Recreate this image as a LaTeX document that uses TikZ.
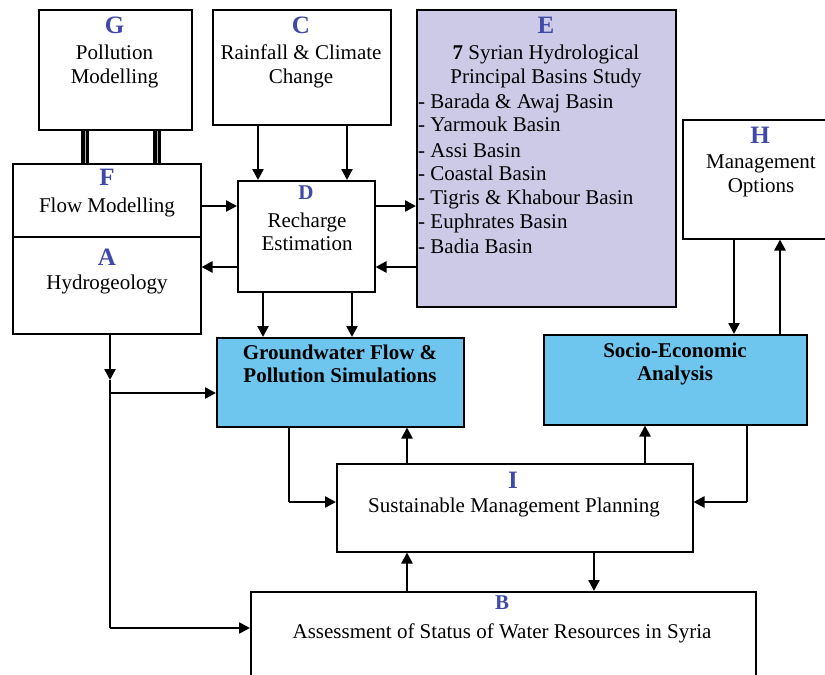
\documentclass[tikz,border=0pt]{standalone}
\usepackage{fontspec}
\setmainfont{Liberation Serif}
\usetikzlibrary{arrows.meta}
\definecolor{lettercol}{RGB}{64,72,168}
\definecolor{lav}{RGB}{204,202,230}
\definecolor{sky}{RGB}{110,198,238}
\begin{document}
\begin{tikzpicture}[x=1pt,y=-1pt,
  box/.style={draw, line width=1.5pt, inner sep=0pt, anchor=north west},
  txt/.style={font=\fontsize{21}{24}\selectfont, inner sep=0pt, anchor=base},
  btxt/.style={font=\fontsize{21}{24}\selectfont\bfseries, inner sep=0pt, anchor=base},
  ltxt/.style={font=\fontsize{21}{24}\selectfont, inner sep=0pt, anchor=base west},
  letter/.style={font=\fontsize{25}{25}\selectfont\bfseries, text=lettercol, inner sep=0pt, anchor=base},
  sletter/.style={font=\fontsize{21}{21}\selectfont\bfseries, text=lettercol, inner sep=0pt, anchor=base},
  arr/.style={-{Triangle[length=11pt,width=11pt]}, line width=2.4pt},
  ln/.style={line width=1.5pt},
  dbl/.style={line width=3.4pt, double=gray!60, double distance=0.9pt}]
\useasboundingbox (0,0) rectangle (825,675);
\clip (0,0) rectangle (825,675);

% boxes
\node[box, minimum width=153pt, minimum height=120pt] (G) at (38,9) {};
\node[box, minimum width=178pt, minimum height=115pt] (C) at (212,9) {};
\node[box, fill=lav, minimum width=259pt, minimum height=297pt] (E) at (416,9) {};
\node[box, minimum width=158pt, minimum height=119pt] (H) at (682,119) {};
\node[box, minimum width=188pt, minimum height=73pt] (F) at (12,163) {};
\node[box, minimum width=188pt, minimum height=97pt] (A) at (12,236) {};
\node[box, minimum width=137pt, minimum height=111pt] (D) at (237,180) {};
\node[box, fill=sky, minimum width=247pt, minimum height=89pt] (GW) at (216,337) {};
\node[box, fill=sky, minimum width=263pt, minimum height=90pt] (SE) at (543,334) {};
\node[box, minimum width=356pt, minimum height=88pt] (I) at (336,463) {};
\node[box, minimum width=505pt, minimum height=110pt] (B) at (250,591) {};

% texts
\node[letter] (Gl) at (114.5,33) {G};
\node[txt] (Gt1) at (114.5,59) {Pollution};
\node[txt] (Gt2) at (114.5,83) {Modelling};
\node[letter] (Cl) at (301,33) {C};
\node[txt] (Ct1) at (301,59) {Rainfall \& Climate};
\node[txt] (Ct2) at (301,83) {Change};
\node[letter] (El) at (546,33) {E};
\node[txt] (Et1) at (546,59) {\textbf{7} Syrian Hydrological};
\node[txt] (Et2) at (546,83) {Principal Basins Study};
\node[ltxt] (E1) at (418,108) {- Barada \& Awaj Basin};
\node[ltxt] (E2) at (418,131) {- Yarmouk Basin};
\node[ltxt] (E3) at (418,157) {- Assi Basin};
\node[ltxt] (E4) at (418,180) {- Coastal Basin};
\node[ltxt] (E5) at (418,204) {- Tigris \& Khabour Basin};
\node[ltxt] (E6) at (418,228) {- Euphrates Basin};
\node[ltxt] (E7) at (418,253) {- Badia Basin};
\node[letter] (Hl) at (760,143) {H};
\node[txt] (Ht1) at (761,168) {Management};
\node[txt] (Ht2) at (761,192) {Options};
\node[letter] (Fl) at (107,185) {F};
\node[txt] (Ft) at (107,212) {Flow Modelling};
\node[letter] (Al) at (107,265) {A};
\node[txt] (At) at (107,289) {Hydrogeology};
\node[sletter] (Dl) at (306,199) {D};
\node[txt] (Dt1) at (307,227) {Recharge};
\node[txt] (Dt2) at (307,250) {Estimation};
\node[btxt] (GWt1) at (340,359) {Groundwater Flow \&};
\node[btxt] (GWt2) at (340,382) {Pollution Simulations};
\node[btxt] (SEt1) at (675,357) {Socio-Economic};
\node[btxt] (SEt2) at (675,380) {Analysis};
\node[letter] (Il) at (513,488) {I};
\node[txt] (It) at (514,512) {Sustainable Management Planning};
\node[sletter] (Bl) at (502,609) {B};
\node[txt] (Bt) at (502,638) {Assessment of Status of Water Resources in Syria};

% guide coordinates
\coordinate (vx1) at (85,0);
\coordinate (vx2) at (157,0);
\coordinate (cx1) at (258,0);
\coordinate (cx2) at (347,0);
\coordinate (dx1) at (263,0);
\coordinate (dx2) at (352,0);
\coordinate (ax) at (110,0);
\coordinate (gx) at (289,0);
\coordinate (ix1) at (407,0);
\coordinate (ix2) at (645,0);
\coordinate (sx) at (747,0);
\coordinate (bx) at (594,0);
\coordinate (hx1) at (734,0);
\coordinate (hx2) at (780,0);
\coordinate (fy) at (0,206);
\coordinate (ay) at (0,267);
\coordinate (aj) at (110,380);
\coordinate (ag) at (110,393);
\coordinate (ab) at (110,628);
\coordinate (gI) at (289,502);
\coordinate (sI) at (747,502);

% connectors
\draw[dbl] (G.south -| vx1) -- (F.north -| vx1);
\draw[dbl] (G.south -| vx2) -- (F.north -| vx2);
\draw[arr] (C.south -| cx1) -- (D.north -| cx1);
\draw[arr] (C.south -| cx2) -- (D.north -| cx2);
\draw[arr] (F.east |- fy) -- (D.west |- fy);
\draw[arr] (D.east |- fy) -- (E.west |- fy);
\draw[arr] (E.west |- ay) -- (D.east |- ay);
\draw[arr] (D.west |- ay) -- (A.east |- ay);
\draw[arr] (D.south -| dx1) -- (GW.north -| dx1);
\draw[arr] (D.south -| dx2) -- (GW.north -| dx2);
\draw[arr] (A.south -| ax) -- (aj);
\draw[ln] (aj) -- (ab);
\draw[arr] (ag) -- (GW.west |- ag);
\draw[arr] (ab) -- (B.west |- ab);
\draw[ln] (GW.south -| gx) -- (gI);
\draw[arr] (gI) -- (I.west |- gI);
\draw[arr] (I.north -| ix1) -- (GW.south -| ix1);
\draw[arr] (I.north -| ix2) -- (SE.south -| ix2);
\draw[ln] (SE.south -| sx) -- (sI);
\draw[arr] (sI) -- (I.east |- sI);
\draw[arr] (B.north -| ix1) -- (I.south -| ix1);
\draw[arr] (I.south -| bx) -- (B.north -| bx);
\draw[arr] (H.south -| hx1) -- (SE.north -| hx1);
\draw[arr] (SE.north -| hx2) -- (H.south -| hx2);
\end{tikzpicture}
\end{document}
